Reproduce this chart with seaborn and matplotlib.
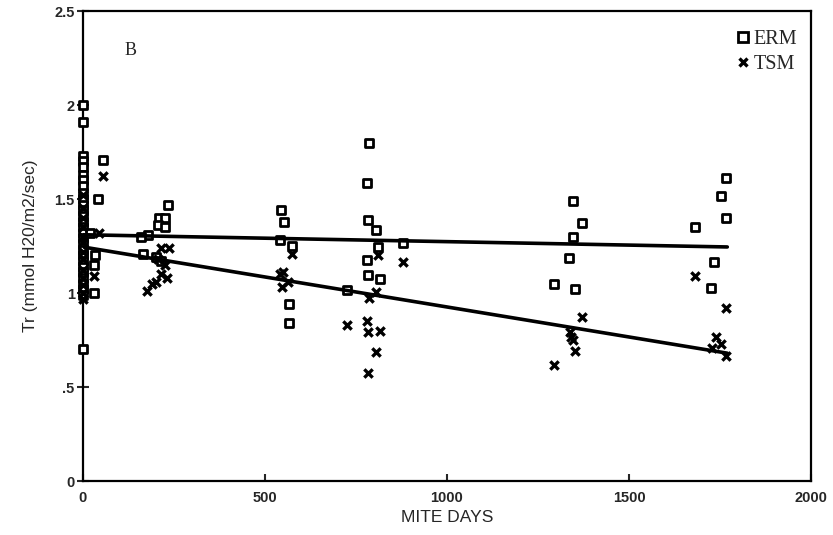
import numpy as np
import pandas as pd
import matplotlib
matplotlib.use("Agg")
import matplotlib.pyplot as plt
import seaborn as sns
from matplotlib.lines import Line2D

# ERM points (mite days, transpiration)
erm_days = [0] * 28 + [55, 41, 20, 32, 30, 30,
            233, 210, 225, 205, 225, 180, 160, 165, 200, 215,
            545, 552, 540, 573, 565, 565,
            785, 780, 782, 806, 810, 878, 780, 782, 815, 724,
            1345, 1372, 1345, 1336, 1295, 1352,
            1767, 1753, 1767, 1682, 1734, 1726]
erm_tr = [2.0, 1.91, 1.73, 1.70, 1.67, 1.63, 1.60, 1.57, 1.53, 1.50, 1.47, 1.44,
          1.41, 1.38, 1.35, 1.32, 1.29, 1.26, 1.23, 1.20, 1.17, 1.14, 1.11, 1.08,
          1.05, 1.02, 0.99, 0.70,
          1.71, 1.50, 1.32, 1.20, 1.15, 1.00,
          1.47, 1.40, 1.40, 1.36, 1.35, 1.31, 1.30, 1.21, 1.19, 1.17,
          1.44, 1.38, 1.28, 1.25, 0.94, 0.84,
          1.80, 1.585, 1.39, 1.335, 1.245, 1.266, 1.175, 1.095, 1.075, 1.015,
          1.49, 1.37, 1.30, 1.185, 1.05, 1.02,
          1.61, 1.515, 1.40, 1.35, 1.165, 1.025]

# TSM points
tsm_days = [0] * 13 + [55, 45, 30,
            215, 235, 205, 225, 215, 230, 200, 190, 175,
            573, 549, 562, 546, 540,
            878, 810, 806, 787, 724, 780, 782, 815, 806, 782,
            1372, 1342, 1345, 1338, 1352, 1295,
            1682, 1767, 1739, 1753, 1729, 1767]
tsm_tr = [1.52, 1.45, 1.40, 1.35, 1.30, 1.27, 1.22, 1.18, 1.12, 1.08, 1.04, 1.00, 0.97,
          1.62, 1.32, 1.09,
          1.24, 1.24, 1.18, 1.15, 1.10, 1.08, 1.06, 1.05, 1.01,
          1.21, 1.11, 1.06, 1.03, 1.10,
          1.165, 1.20, 1.005, 0.973, 0.83, 0.85, 0.79, 0.80, 0.685, 0.575,
          0.87, 0.765, 0.75, 0.79, 0.69, 0.617,
          1.09, 0.92, 0.765, 0.73, 0.71, 0.665]

# regression lines
fit_days = [0, 1770]
erm_fit = [1.31, 1.245]
tsm_fit = [1.245, 0.68]

x_ticks = [0, 500, 1000, 1500, 2000]
y_ticks = [0, 0.5, 1, 1.5, 2, 2.5]
y_ticklabels = ["0", ".5", "1", "1.5", "2", "2.5"]

df = pd.concat([
    pd.DataFrame({"days": erm_days, "tr": erm_tr, "mite": "ERM"}),
    pd.DataFrame({"days": tsm_days, "tr": tsm_tr, "mite": "TSM"}),
])
fits = pd.DataFrame({"days": fit_days * 2, "tr": erm_fit + tsm_fit,
                     "mite": ["ERM"] * 2 + ["TSM"] * 2})

sns.set_style("ticks")
plt.rcParams["font.family"] = ["Liberation Sans", "DejaVu Sans"]

fig = plt.figure(figsize=(8.33, 5.35), dpi=100)
ax = fig.add_axes([0.0996, 0.1009, 0.874, 0.8785])

sns.scatterplot(data=df[df["mite"] == "ERM"], x="days", y="tr", marker="s",
                s=40, facecolor="white", edgecolor="black", linewidth=2,
                ax=ax, legend=False, zorder=3, clip_on=False)
sns.scatterplot(data=df[df["mite"] == "TSM"], x="days", y="tr", marker="x",
                s=36, color="black", linewidth=2.4, ax=ax, legend=False,
                zorder=3, clip_on=False)
for m in ["ERM", "TSM"]:
    sns.lineplot(data=fits[fits["mite"] == m], x="days", y="tr", color="black",
                 lw=2.6, ax=ax, legend=False, zorder=4)

ax.set_xlim(0, 2000)
ax.set_ylim(0, 2.5)
ax.set_xticks(x_ticks)
ax.set_yticks(y_ticks)
ax.set_yticklabels(y_ticklabels)
for lab in ax.get_xticklabels() + ax.get_yticklabels():
    lab.set_fontweight("bold")
    lab.set_fontsize(10.5)
ax.tick_params(axis="x", direction="in", length=5, width=1.5, pad=7)
ax.tick_params(axis="y", direction="inout", length=8, width=1.5, pad=2)
for sp in ax.spines.values():
    sp.set_visible(True)
    sp.set_linewidth(1.6)
    sp.set_color("black")

ax.set_xlabel("MITE DAYS", fontsize=12.5, labelpad=4)
ax.set_ylabel("Tr (mmol H20/m2/sec)", fontsize=12.5, labelpad=12)

ax.text(0.065, 0.917, "B", transform=ax.transAxes, fontsize=13,
        family="Liberation Serif", ha="center", va="center")

handles = [
    Line2D([], [], marker="s", ls="", markerfacecolor="white",
           markeredgecolor="black", markeredgewidth=2, markersize=6.5),
    Line2D([], [], marker="x", ls="", color="black", markeredgewidth=2.4,
           markersize=6),
]
leg = ax.legend(handles, ["ERM", "TSM"], loc="upper right", frameon=False,
                prop={"family": "Liberation Serif", "size": 14.5},
                handletextpad=0.0, handlelength=1.0, labelspacing=0.3,
                borderaxespad=0.3, bbox_to_anchor=(1.0, 0.99))

fig.savefig("out.png", dpi=100)
